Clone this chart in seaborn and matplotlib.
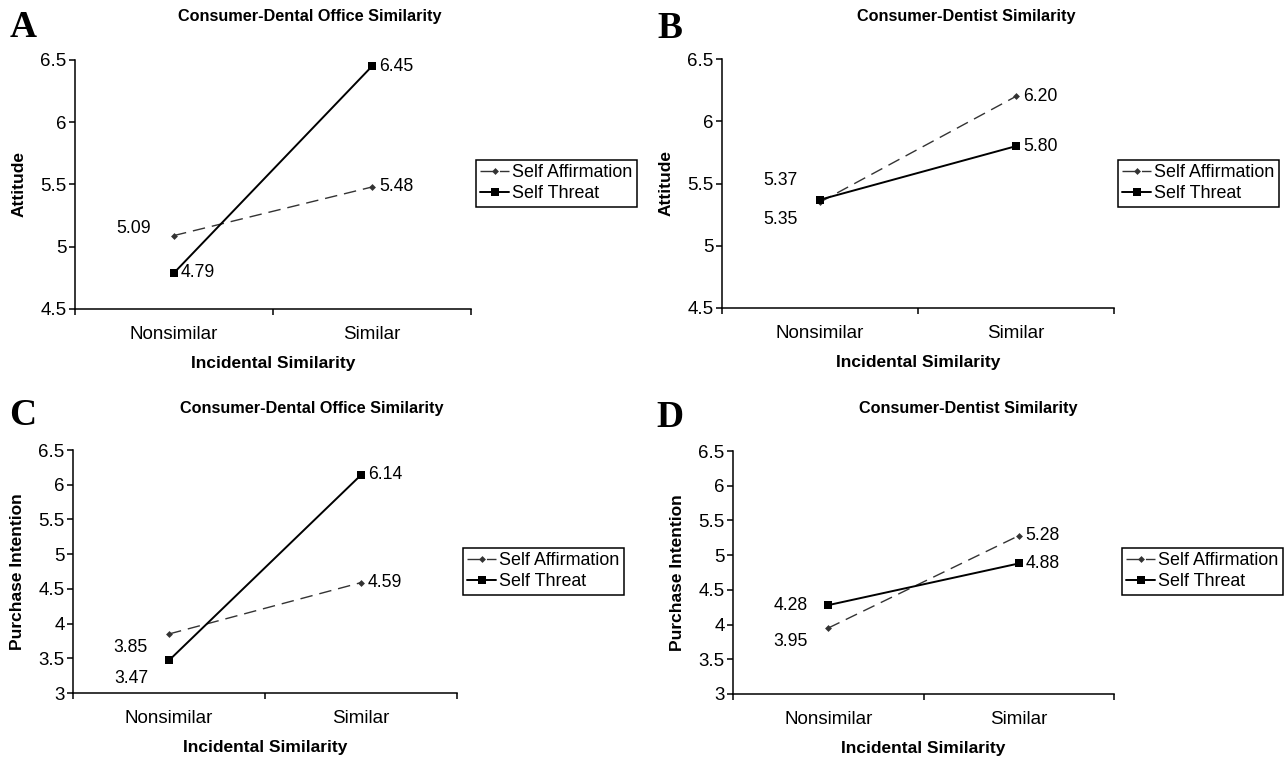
import seaborn as sns
import matplotlib.pyplot as plt
import pandas as pd
from matplotlib.ticker import FixedLocator, NullFormatter, FixedFormatter

# 데이터
levels = ['Nonsimilar', 'Similar']
groups = ['Self Affirmation', 'Self Threat']

att_office_aff = [5.09, 5.48]
att_office_thr = [4.79, 6.45]
att_dentist_aff = [5.35, 6.20]
att_dentist_thr = [5.37, 5.80]
pi_office_aff = [3.85, 4.59]
pi_office_thr = [3.47, 6.14]
pi_dentist_aff = [3.95, 5.28]
pi_dentist_thr = [4.28, 4.88]

letters = ['A', 'B', 'C', 'D']
titles = ['Consumer-Dental Office Similarity', 'Consumer-Dentist Similarity',
          'Consumer-Dental Office Similarity', 'Consumer-Dentist Similarity']
ylabels = ['Attitude', 'Attitude', 'Purchase Intention', 'Purchase Intention']
yticks_att = [4.5, 5, 5.5, 6, 6.5]
yticks_pi = [3, 3.5, 4, 4.5, 5, 5.5, 6, 6.5]

panels = [
    (att_office_aff, att_office_thr, yticks_att),
    (att_dentist_aff, att_dentist_thr, yticks_att),
    (pi_office_aff, pi_office_thr, yticks_pi),
    (pi_dentist_aff, pi_dentist_thr, yticks_pi),
]

# 배치 (픽셀 단위: left, right, top, bottom)
W, H = 1288, 757
boxes = [(75, 471, 60, 309), (722, 1114, 59, 308), (73, 457, 450, 693), (733, 1114, 451, 694)]
letter_pos = [(10, 37), (657, 38), (9, 425), (656, 427)]
title_pos = [(310, 16), (966, 16), (312, 408), (968, 409)]
legend_pos = [(476, 160), (1118, 160), (463, 548), (1122, 548)]
# 데이터 라벨 오프셋 (픽셀): 왼쪽 점 [aff, thr]
left_offsets = [
    [(-23, 7), (7, 0)],
    [(-22, -17), (-22, 19)],
    [(-21, -14), (-21, -18)],
    [(-21, -13), (-21, 0)],
]

sns.set_style('ticks')
plt.rcParams['font.family'] = ['Liberation Sans', 'DejaVu Sans']
for k in ['text.color', 'axes.labelcolor', 'xtick.color', 'ytick.color']:
    plt.rcParams[k] = 'black'

fig = plt.figure(figsize=(W / 100, H / 100), dpi=100)

styles = {
    'Self Affirmation': dict(color='#333333', lw=1.0, ls=(0, (9, 5)), marker='D', ms=3.5),
    'Self Threat': dict(color='black', lw=1.4, ls='-', marker='s', ms=5.5),
}

for i, (aff, thr, yt) in enumerate(panels):
    l, r, t, b = boxes[i]
    ax = fig.add_axes([l / W, 1 - b / H, (r - l) / W, (b - t) / H])
    df = pd.DataFrame({
        'Incidental Similarity': levels * 2,
        'value': aff + thr,
        'group': [groups[0]] * 2 + [groups[1]] * 2,
    })
    for g in groups:
        st = styles[g]
        sns.lineplot(data=df[df['group'] == g], x='Incidental Similarity', y='value',
                     ax=ax, color=st['color'], linewidth=st['lw'], linestyle=st['ls'],
                     marker=st['marker'], markersize=st['ms'], markeredgewidth=0,
                     label=g)

    ax.set_xlim(-0.5, 1.5)
    ax.set_ylim(yt[0], yt[-1])
    ax.set_yticks(yt)
    ax.set_yticklabels([f'{v:g}' for v in yt])
    ax.xaxis.set_major_locator(FixedLocator([-0.5, 0.5, 1.5]))
    ax.xaxis.set_major_formatter(NullFormatter())
    ax.xaxis.set_minor_locator(FixedLocator([0, 1]))
    ax.xaxis.set_minor_formatter(FixedFormatter(levels))
    ax.tick_params(axis='x', which='minor', length=0, pad=12, labelsize=13.5)
    ax.tick_params(axis='x', which='major', length=4, width=1.1, direction='out', color='black')
    ax.tick_params(axis='y', length=4, width=1.1, direction='out', pad=2, labelsize=13.5, color='black')
    sns.despine(ax=ax)
    for s in ['left', 'bottom']:
        ax.spines[s].set_linewidth(1.1)
        ax.spines[s].set_color('black')

    ax.set_xlabel('Incidental Similarity', fontsize=12.5, fontweight='bold')
    ax.set_ylabel(ylabels[i], fontsize=12.5, fontweight='bold')
    ax.xaxis.set_label_coords(0.5, -47 / (b - t))
    ax.yaxis.set_label_coords(-48 / (r - l), 0.5)

    # 값 라벨
    for j, vals in enumerate([aff, thr]):
        dx, dy = left_offsets[i][j]
        ax.annotate(f'{vals[0]:.2f}', (0, vals[0]), xytext=(dx, dy), textcoords='offset pixels',
                    ha='right' if dx < 0 else 'left', va='center', fontsize=12.7)
        ax.annotate(f'{vals[1]:.2f}', (1, vals[1]), xytext=(7, 0), textcoords='offset pixels',
                    ha='left', va='center', fontsize=12.7)

    lx, ly = legend_pos[i]
    leg = ax.legend(loc='upper left', bbox_to_anchor=(lx / W, 1 - ly / H),
                    bbox_transform=fig.transFigure, borderaxespad=0, fontsize=12.9,
                    frameon=True, fancybox=False, framealpha=1, edgecolor='black',
                    handlelength=1.6, handletextpad=0.15, borderpad=0.25, labelspacing=0.2)
    leg.get_frame().set_linewidth(1.1)

    fig.text(title_pos[i][0] / W, 1 - title_pos[i][1] / H, titles[i], ha='center', va='center',
             fontsize=11.7, fontweight='bold')
    fig.text(letter_pos[i][0] / W, 1 - letter_pos[i][1] / H, letters[i], ha='left', va='baseline',
             fontsize=27, fontweight='bold', family='Liberation Serif')

fig.savefig('out.png', dpi=100)
